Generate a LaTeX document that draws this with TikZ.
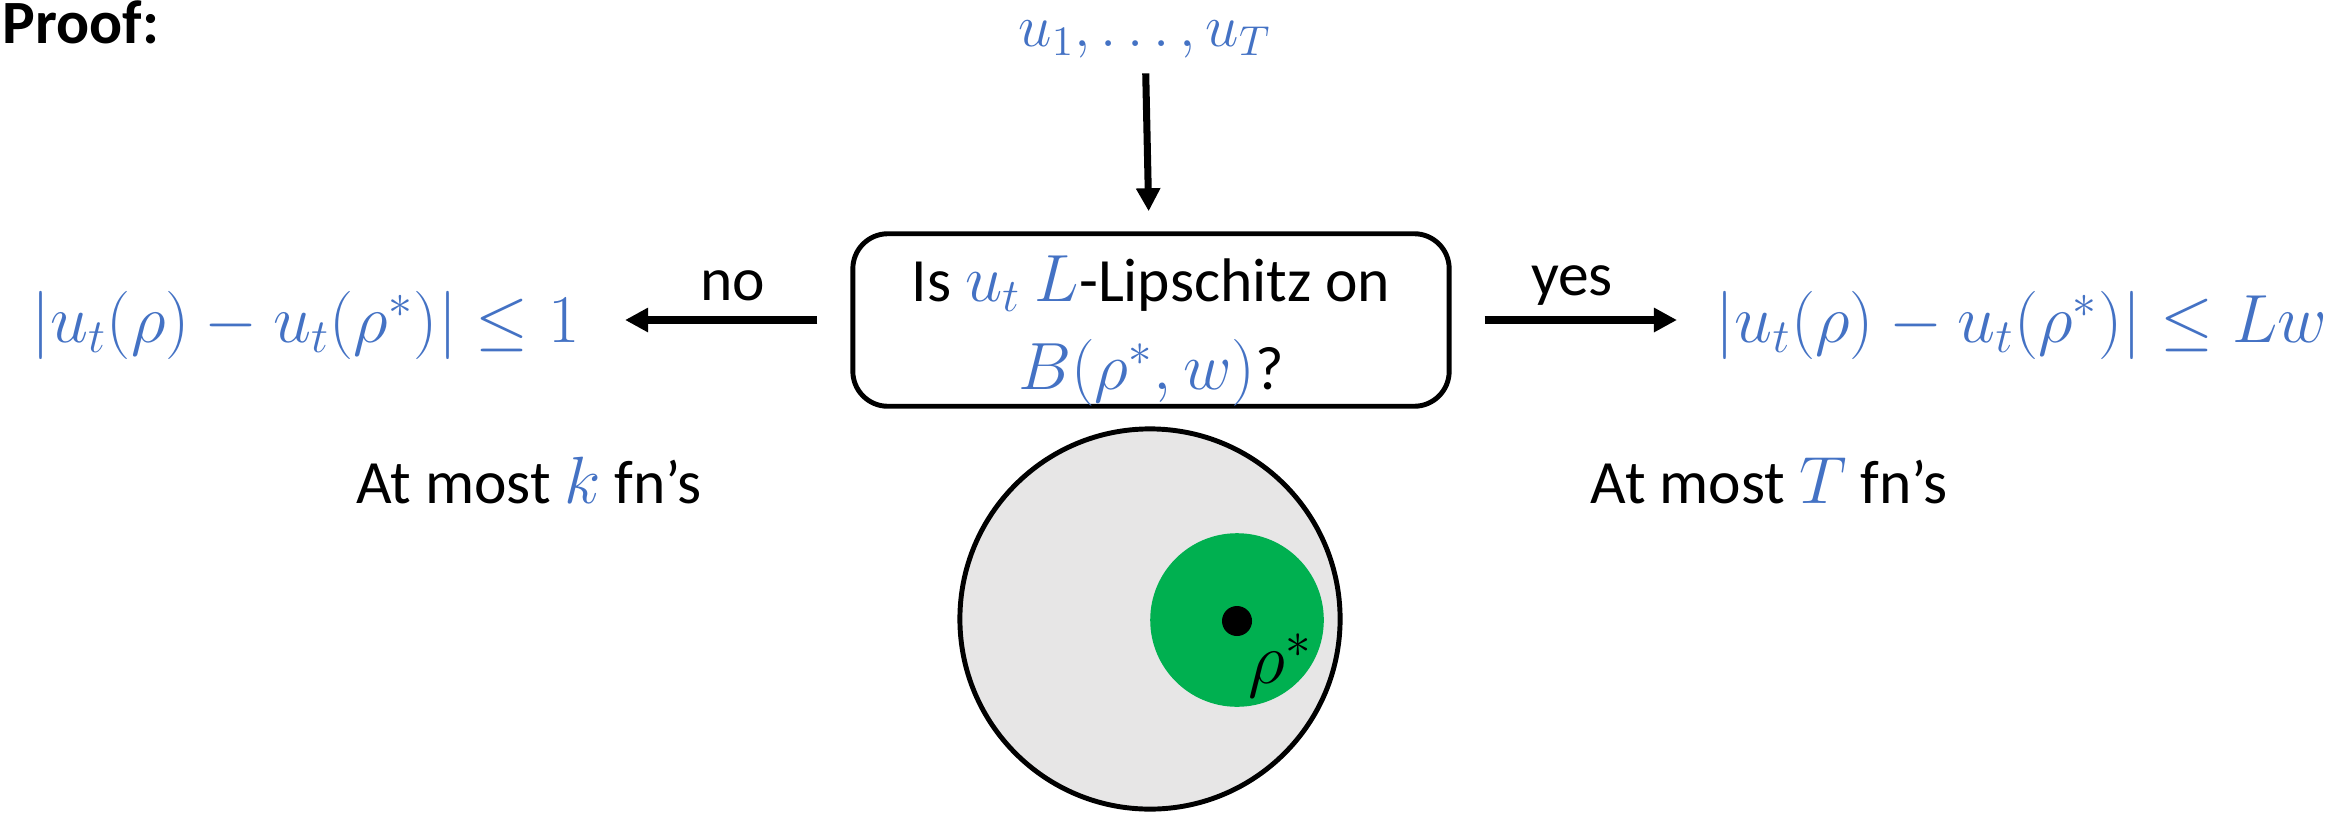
\RequirePackage{fix-cm}
\documentclass[tikz,border=0pt]{standalone}
\usepackage{amsmath,amssymb}
\usepackage[no-math]{fontspec}
\setmainfont{Carlito}
\usepackage{tikz}
\usetikzlibrary{arrows.meta,positioning}
\definecolor{MathBlue}{HTML}{4472C4}
\definecolor{BallGreen}{HTML}{00B050}
\definecolor{BallGray}{HTML}{E7E6E6}
\newcommand{\bluemath}[1]{{\fontsize{19}{21}\selectfont\textcolor{MathBlue}{$#1$}}}

\begin{document}
\begin{tikzpicture}[x=0.01cm,y=-0.01cm,
  txt/.style={font=\fontsize{17.5}{21}\selectfont,inner sep=0pt},
  fml/.style={font=\fontsize{19.4}{23}\selectfont,text=MathBlue,inner sep=0pt},
  arr/.style={line width=2pt,-{Triangle[length=0.23cm,width=0.23cm]}}]
\useasboundingbox (0,0) rectangle (2346,812);

\node[txt,font=\fontsize{17.5}{21}\selectfont\bfseries,anchor=base west] (proof) at (2,44) {Proof:};
\node[fml,font=\fontsize{17}{20}\selectfont,anchor=base] (seq) at (1145,47) {$u_1,\ldots,u_T$};
\node[draw,line width=1.4pt,rounded corners=0.35cm,minimum width=5.96cm,minimum height=1.72cm,
      align=center,txt] (query) at (1151,320)
{\rule{0pt}{0.68cm}Is \bluemath{u_t} \bluemath{L}-Lipschitz on\\[0.14cm]\bluemath{B(\rho^*,w)}?};

\node[fml,anchor=base east] (small) at (580,342) {$|u_t(\rho)-u_t(\rho^*)|\le 1$};
\node[fml,anchor=base west] (lip) at (1715,342) {$|u_t(\rho)-u_t(\rho^*)|\le Lw$};

\draw[arr,shorten <=0.14cm,shorten >=0.2cm] (seq) -- (query);
\draw[arr,shorten <=0.33cm,shorten >=0.45cm] (query.west) -- (query.west -| small.east);
\draw[arr,shorten <=0.33cm,shorten >=0.38cm] (query.east) -- (query.east -| lip.west);
\node[txt,anchor=base] (no) at (733,300) {no};
\node[txt,anchor=base] (yes) at (1572,295) {yes};

\node[txt,anchor=base] (fewk) at (529,503) {At most \bluemath{k} fn's};
\node[txt,anchor=base] (fewT) at (1769,503) {At most \bluemath{T} fn's};

\node[circle,draw,line width=1.4pt,fill=BallGray,minimum size=3.8cm,inner sep=0pt] (ball) at (1150,619) {};
\node[circle,fill=BallGreen,minimum size=1.735cm,inner sep=0pt] (nbhd) at (1237,620) {};
\node[circle,fill=black,minimum size=0.3cm,inner sep=0pt] (opt) at (1237,621) {};
\node[anchor=north west,font=\fontsize{20.7}{24}\selectfont,inner sep=0pt] (optlbl) at (1248,633) {$\rho^*$};
\end{tikzpicture}
\end{document}
